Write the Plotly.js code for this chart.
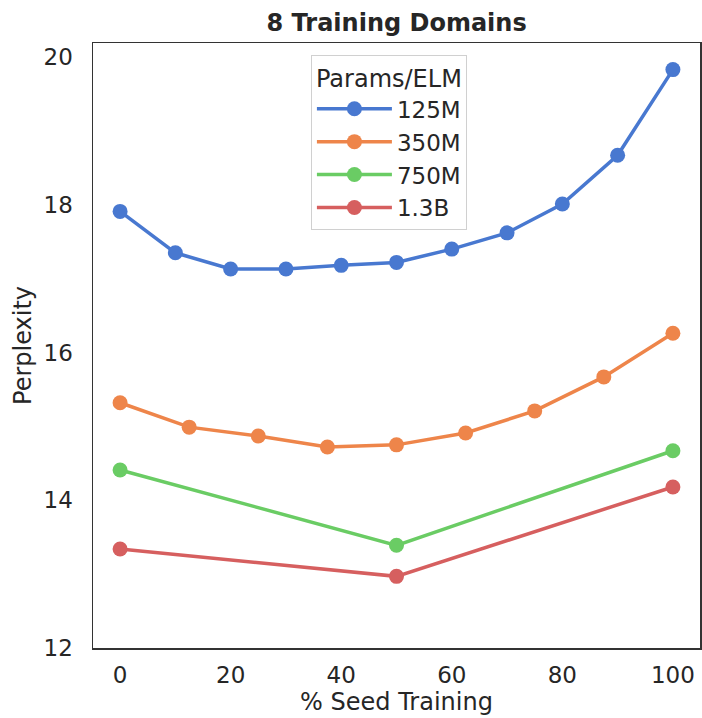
<!DOCTYPE html>
<html>
<head>
<meta charset="utf-8">
<script src="https://cdn.plot.ly/plotly-3.0.1.min.js"></script>
<style>html,body{margin:0;padding:0;background:#fff;}#chart{width:702px;height:718px;}</style>
</head>
<body>
<div id="chart"></div>
<script>
const seriesNames = ["125M", "350M", "750M", "1.3B"];
const colors = ["#4878d0", "#ee854a", "#6acc64", "#d65f5f"];
const x125 = [0, 10, 20, 30, 40, 50, 60, 70, 80, 90, 100];
const y125 = [17.91, 17.35, 17.13, 17.13, 17.18, 17.22, 17.40, 17.62, 18.01, 18.67, 19.83];
const x350 = [0, 12.5, 25, 37.5, 50, 62.5, 75, 87.5, 100];
const y350 = [15.32, 14.99, 14.87, 14.72, 14.75, 14.91, 15.21, 15.67, 16.26];
const x750 = [0, 50, 100];
const y750 = [14.41, 13.39, 14.67];
const x13b = [0, 50, 100];
const y13b = [13.34, 12.97, 14.18];
const xTicks = [0, 20, 40, 60, 80, 100];
const yTicks = [12, 14, 16, 18, 20];

const xs = [x125, x350, x750, x13b];
const ys = [y125, y350, y750, y13b];
const traces = seriesNames.map((n, i) => ({
  x: xs[i], y: ys[i], name: n, type: 'scatter', mode: 'lines+markers',
  line: {color: colors[i], width: 3.5},
  marker: {color: colors[i], size: 15}
}));

const font = "DejaVu Sans, sans-serif";
const layout = {
  width: 702, height: 718,
  margin: {l: 93, r: 2, t: 43, b: 70},
  paper_bgcolor: '#fff', plot_bgcolor: '#fff',
  font: {family: font, color: '#262626', size: 23},
  title: {text: '<b>8 Training Domains</b>', font: {family: font, size: 24, color: '#262626'}, x: 0.565, xanchor: 'center', y: 0.969, yanchor: 'middle'},
  xaxis: {
    range: [-4.9, 104.9], tickvals: xTicks, ticktext: xTicks.map(String),
    showgrid: false, zeroline: false, showline: true, mirror: true, linecolor: '#333', linewidth: 1.5,
    ticks: '', tickfont: {size: 23}, ticklabelstandoff: 6,
    title: {text: '% Seed Training', font: {size: 24}, standoff: 2}
  },
  yaxis: {
    range: [12, 20.19], tickvals: yTicks, ticktext: yTicks.map(String),
    showgrid: false, zeroline: false, showline: true, mirror: true, linecolor: '#333', linewidth: 1.5,
    ticks: '', tickfont: {size: 23}, ticklabelstandoff: 14,
    title: {text: 'Perplexity', font: {size: 24}, standoff: 5}
  },
  legend: {
    x: 0.359, y: 0.98, xanchor: 'left', yanchor: 'top',
    bgcolor: '#fff', bordercolor: '#d0d0d0', borderwidth: 1,
    font: {size: 23, color: '#262626'},
    title: {text: 'Params/ELM', side: 'top center', font: {size: 24}},
    itemwidth: 75, tracegroupgap: 0
  }
};
Plotly.newPlot('chart', traces, layout, {displayModeBar: false, staticPlot: true});
</script>
</body>
</html>
